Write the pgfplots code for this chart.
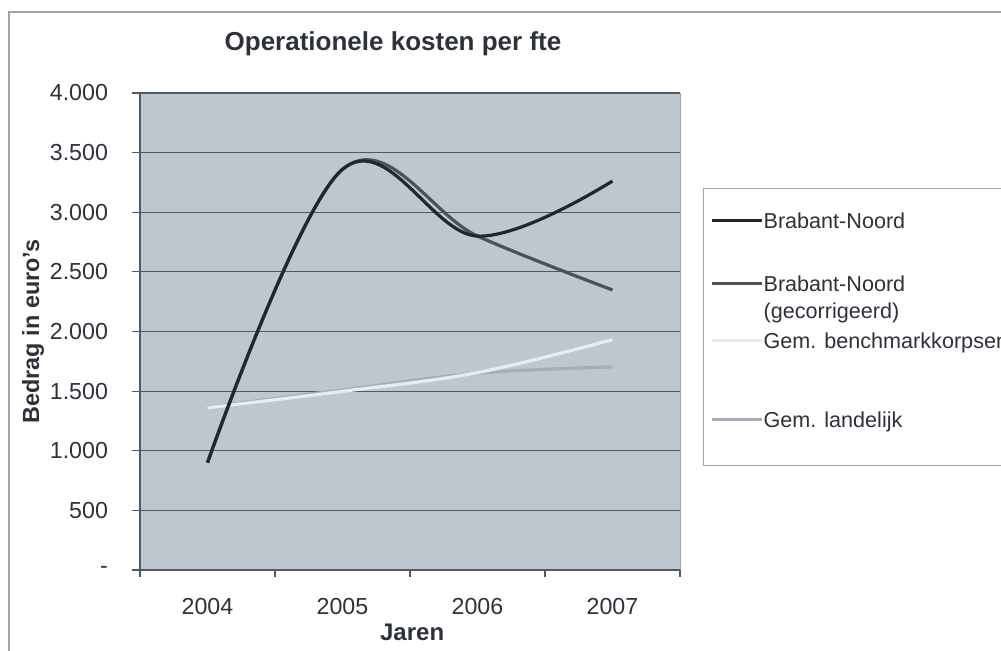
\documentclass[border=0pt]{standalone}
\usepackage{fontspec}
\setmainfont{Liberation Sans}
\usepackage{pgfplots}
\pgfplotsset{compat=1.18}
\definecolor{bg}{RGB}{190,198,208}
\definecolor{gridc}{RGB}{80,88,96}
\definecolor{textc}{RGB}{45,50,58}
\definecolor{framec}{RGB}{160,163,168}
\definecolor{bnc}{RGB}{33,39,47}
\definecolor{gcc}{RGB}{75,82,87}
\definecolor{bmc}{RGB}{232,236,241}
\definecolor{llc}{RGB}{165,174,184}
\begin{document}
\begin{tikzpicture}
\useasboundingbox (0pt,0pt) rectangle (500.5pt,325.5pt);
\clip (0pt,0pt) rectangle (500.5pt,325.5pt);
\draw[framec, line width=0.7pt] (4.5pt,-5pt) -- (4.5pt,319.5pt) -- (510pt,319.5pt);
\begin{axis}[
  at={(70pt,40.5pt)}, anchor=south west,
  scale only axis, width=270pt, height=238.5pt,
  xmin=-0.5, xmax=3.5, ymin=0, ymax=4000,
  axis background/.style={fill=bg, draw=framec},
  axis x line*=bottom, axis y line*=left,
  axis line style={gridc, line width=0.7pt},
  xtick={0,1,2,3}, xticklabels={2004,2005,2006,2007},
  minor xtick={-0.5,0.5,1.5,2.5,3.5},
  major x tick style={draw=none},
  minor x tick style={gridc, line width=0.6pt},
  ytick={0,500,...,4000},
  yticklabels={-,500,1.000,1.500,2.000,2.500,3.000,3.500,4.000},
  y tick style={gridc, line width=0.6pt},
  ymajorgrids, grid style={gridc, line width=0.6pt},
  tick align=outside,
  major tick length=4pt, minor tick length=3.5pt,
  ticklabel style={font=\fontsize{11.6}{14}\selectfont, color=textc},
  yticklabel style={anchor=east, xshift=-8.5pt},
  xticklabel style={anchor=base, yshift=-18.5pt},
  title={Operationele kosten per fte},
  title style={at={(axis description cs:0.4685,1.063)}, anchor=base,
    font=\fontsize{13}{15}\selectfont\bfseries, color=textc},
  xlabel={Jaren},
  xlabel style={at={(axis description cs:0.504,-0.1488)}, anchor=base,
    font=\fontsize{12}{14}\selectfont\bfseries, color=textc},
  ylabel={Bedrag in euro's},
  ylabel style={at={(axis description cs:-0.198,0.5)}, anchor=center,
    font=\fontsize{11.7}{14}\selectfont\bfseries, color=textc},
  reverse legend,
  legend image code/.code={\path (0pt,0pt); \draw[#1] (0pt,3.8pt) -- (25pt,3.8pt);},
  legend style={at={(axis description cs:1.0426,0.8008)}, anchor=north west,
    draw=framec, fill=white, inner xsep=3.5pt, inner ysep=0pt, row sep=0pt,
    cells={anchor=base west},
    nodes={inner sep=0pt, text depth=},
    font=\fontsize{10.8}{13.6}\selectfont, text=textc,
    /tikz/every even column/.append style={column sep=2.5pt}},
  every axis plot/.append style={smooth, tension=0.6, line width=1.6pt, no markers},
]
\addplot[color=llc] coordinates {(0,1365) (1,1510) (2,1650) (3,1703)};
\addlegendentry{\rule{0pt}{10pt}Gem. landelijk\rule[-19pt]{0pt}{0pt}}
\addplot[color=bmc] coordinates {(0,1360) (1,1498) (2,1655) (3,1932)};
\addlegendentry{\rule{0pt}{10.8pt}Gem. benchmarkkorpsen\rule[-29.5pt]{0pt}{0pt}}
\addplot[color=gcc] coordinates {(0,900) (1,3360) (2,2800) (3,2348)};
\addlegendentry{\begin{tabular}[t]{@{}l@{}}Brabant-Noord\\(gecorrigeerd)\end{tabular}}
\addplot[color=bnc] coordinates {(0,900) (1,3360) (2,2800) (3,3262)};
\addlegendentry{\rule{0pt}{20pt}Brabant-Noord\rule[-22pt]{0pt}{0pt}}
\end{axis}
\end{tikzpicture}
\end{document}
